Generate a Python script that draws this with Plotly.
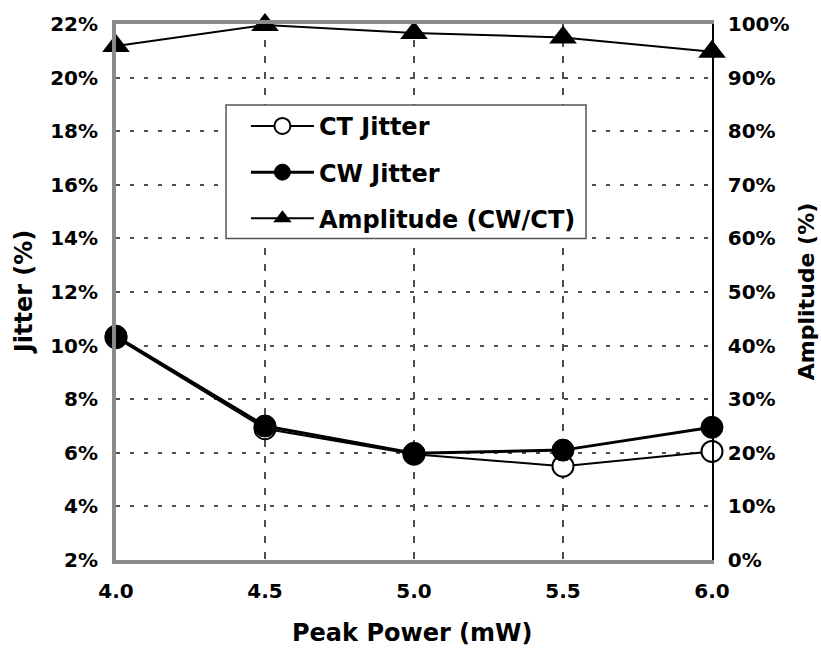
import plotly.graph_objects as go

peak_power = [4.0, 4.5, 5.0, 5.5, 6.0]
ct_jitter = [10.3, 6.9, 5.95, 5.5, 6.05]
cw_jitter = [10.35, 7.0, 5.98, 6.1, 6.95]
amplitude = [95.9, 99.8, 98.3, 97.5, 94.8]

left_ticks = [2, 4, 6, 8, 10, 12, 14, 16, 18, 20, 22]
right_ticks = [0, 10, 20, 30, 40, 50, 60, 70, 80, 90, 100]
x_ticks = [4.0, 4.5, 5.0, 5.5, 6.0]

FONT = "DejaVu Sans, Liberation Sans, sans-serif"
TICKF = dict(family=FONT, size=20, weight="bold", color="black")
TITLEF = dict(family=FONT, size=22, weight="bold", color="black")
GRID = "#505050"

fig = go.Figure()
fig.add_trace(go.Scatter(
    x=peak_power, y=ct_jitter, name="CT Jitter", mode="lines+markers", legendgroup="a",
    line=dict(color="black", width=2), cliponaxis=False,
    marker=dict(symbol="circle", size=21, color="white", line=dict(color="black", width=2)),
))
fig.add_trace(go.Scatter(
    x=peak_power, y=cw_jitter, name="CW Jitter", mode="lines+markers", legendgroup="b",
    line=dict(color="black", width=3), cliponaxis=False,
    marker=dict(symbol="circle", size=22, color="black", line=dict(color="black", width=1)),
))
fig.add_trace(go.Scatter(
    x=peak_power, y=amplitude, name="Amplitude (CW/CT)", mode="lines+markers", yaxis="y2",
    legendgroup="c", line=dict(color="black", width=2), cliponaxis=False,
    marker=dict(symbol="triangle-up", size=24, color="black"),
))

fig.update_layout(
    width=821, height=655,
    margin=dict(l=116, r=109, t=22, b=95),
    paper_bgcolor="white", plot_bgcolor="white",
    font=dict(family=FONT, size=20, color="black"),
    showlegend=True,
    legend=dict(
        x=0.218, y=0.851, xanchor="left", yanchor="top",
        bgcolor="rgba(0,0,0,0)", borderwidth=0,
        font=dict(family=FONT, size=24, color="black", weight="bold"),
        itemwidth=63, tracegroupgap=12,
    ),
    shapes=[
        dict(type="rect", xref="paper", yref="paper", x0=0.1846, x1=0.7886, y0=0.600, y1=0.849,
             fillcolor="white", line=dict(color="#555", width=1.5), layer="above"),
    ],
    xaxis=dict(
        range=[4.0, 6.0], tickvals=x_ticks, ticktext=[f"{v:.1f}" for v in x_ticks],
        showgrid=True, gridcolor=GRID, griddash="7px,9px", gridwidth=1.5,
        showline=True, linecolor="#8a8a8a", linewidth=4, mirror=True,
        ticks="outside", ticklen=10, tickcolor="rgba(0,0,0,0)", tickfont=TICKF,
        zeroline=False,
    ),
    yaxis=dict(
        range=[2, 22], tickvals=left_ticks, ticktext=[f"{v}%" for v in left_ticks],
        showgrid=True, gridcolor=GRID, griddash="4px,10px", gridwidth=2,
        showline=True, linecolor="#8a8a8a", linewidth=4,
        ticks="outside", ticklen=10, tickcolor="rgba(0,0,0,0)", tickfont=TICKF,
        zeroline=False,
    ),
    yaxis2=dict(
        range=[0, 100], tickvals=right_ticks, ticktext=[f"{v}%" for v in right_ticks],
        overlaying="y", side="right", showgrid=False,
        showline=True, linecolor="black", linewidth=1.5,
        ticks="outside", ticklen=10, tickcolor="rgba(0,0,0,0)", tickfont=TICKF,
        zeroline=False,
    ),
    annotations=[
        dict(text="Peak Power (mW)", xref="paper", yref="paper", x=0.497, y=-0.136,
             xanchor="center", yanchor="middle", showarrow=False,
             font=dict(family=FONT, size=24, weight="bold", color="black")),
        dict(text="Jitter (%)", xref="paper", yref="paper", x=-0.154, y=0.5,
             xanchor="center", yanchor="middle", showarrow=False, textangle=-90,
             font=dict(family=FONT, size=24, weight="bold", color="black")),
        dict(text="Amplitude (%)", xref="paper", yref="paper", x=1.158, y=0.5,
             xanchor="center", yanchor="middle", showarrow=False, textangle=-90, font=TITLEF),
    ],
)

fig.write_html("out.html")
